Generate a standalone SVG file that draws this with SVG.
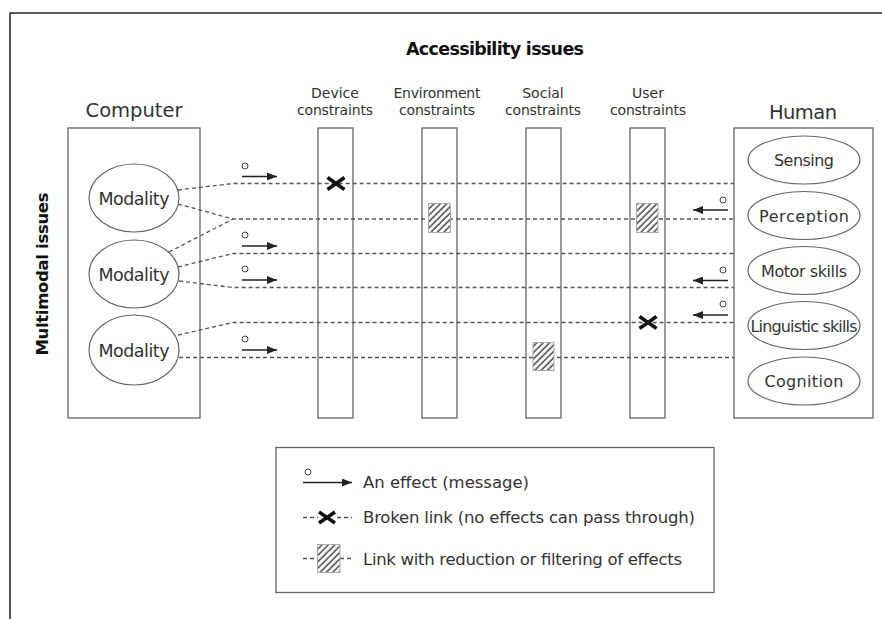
<svg xmlns="http://www.w3.org/2000/svg" width="882" height="619" viewBox="0 0 882 619">
  <defs>
    <marker id="ah" markerUnits="userSpaceOnUse" viewBox="0 0 10 8" markerWidth="10" markerHeight="8" refX="10" refY="4" orient="auto">
      <path d="M0,0 L10,4 L0,8 z" fill="#222"/>
    </marker>
    <pattern id="hatch" patternUnits="userSpaceOnUse" width="4.5" height="4.5" patternTransform="rotate(45)">
      <rect width="4.5" height="4.5" fill="#fff"/>
      <line x1="1" y1="0" x2="1" y2="4.5" stroke="#555" stroke-width="1.6"/>
    </pattern>
  </defs>
  <style>
    .frame{stroke:#222;stroke-width:1.5;fill:none}
    .box{fill:#fff;stroke:#666;stroke-width:1.3}
    .ell{fill:#fff;stroke:#666;stroke-width:1.2}
    .lbl{font-family:"DejaVu Sans",sans-serif;fill:#333;text-anchor:middle}
    .ttl{font-family:"DejaVu Sans",sans-serif;font-weight:bold;fill:#111;text-anchor:middle}
    .leg{font-family:"DejaVu Sans",sans-serif;fill:#333;font-size:16.5px}
    .link{fill:none;stroke:#555;stroke-width:1.3;stroke-dasharray:4 3}
    .eff{stroke:#222;stroke-width:1.5;fill:none;marker-end:url(#ah)}
    .dot{fill:#fff;stroke:#444;stroke-width:1}
    .brk{stroke:#111;stroke-width:3.5;fill:none}
    .filt{fill:url(#hatch);stroke:#aaa;stroke-width:1}
  </style>

  <rect width="882" height="619" fill="#fff"/>
  <!-- page frame -->
  <path class="frame" d="M10,619 L10,13 L882,13"/>

  <!-- titles -->
  <text class="ttl" x="495" y="54.5" font-size="17.5" textLength="178">Accessibility issues</text>
  <text class="ttl" font-size="16.5" textLength="163" transform="translate(47.5,274) rotate(-90)">Multimodal issues</text>

  <!-- computer side -->
  <g id="computer">
    <text class="lbl" x="134" y="116.5" font-size="19.5" textLength="97">Computer</text>
    <rect class="box" x="68" y="128" width="132" height="290"/>
  </g>
  <g id="modality1">
    <ellipse class="ell" cx="134" cy="198" rx="45" ry="34"/>
    <text class="lbl" x="134" y="204.5" font-size="17.5" textLength="71">Modality</text>
  </g>
  <g id="modality2">
    <ellipse class="ell" cx="134" cy="274" rx="45" ry="34"/>
    <text class="lbl" x="134" y="280.5" font-size="17.5" textLength="71">Modality</text>
  </g>
  <g id="modality3">
    <ellipse class="ell" cx="134" cy="350" rx="45" ry="35"/>
    <text class="lbl" x="134" y="356.5" font-size="17.5" textLength="71">Modality</text>
  </g>

  <!-- constraint bars -->
  <g id="device">
    <text class="lbl" x="335" y="98" font-size="14">Device</text>
    <text class="lbl" x="335" y="115" font-size="14" textLength="76">constraints</text>
    <rect class="box" x="318" y="128" width="35" height="290"/>
  </g>
  <g id="environment">
    <text class="lbl" x="437" y="98" font-size="14" textLength="87">Environment</text>
    <text class="lbl" x="437" y="115" font-size="14" textLength="76">constraints</text>
    <rect class="box" x="422" y="128" width="35" height="290"/>
  </g>
  <g id="social">
    <text class="lbl" x="543" y="98" font-size="14">Social</text>
    <text class="lbl" x="543" y="115" font-size="14" textLength="76">constraints</text>
    <rect class="box" x="526" y="128" width="35" height="290"/>
  </g>
  <g id="user">
    <text class="lbl" x="648" y="98" font-size="14">User</text>
    <text class="lbl" x="648" y="115" font-size="14" textLength="76">constraints</text>
    <rect class="box" x="630" y="128" width="35" height="290"/>
  </g>

  <!-- human side -->
  <g id="human">
    <text class="lbl" x="803" y="119" font-size="19.5" textLength="68">Human</text>
    <rect class="box" x="734" y="128" width="139" height="290"/>
  </g>
  <g id="sensing">
    <ellipse class="ell" cx="804" cy="160" rx="56" ry="24"/>
    <text class="lbl" x="804" y="166" font-size="16" textLength="60">Sensing</text>
  </g>
  <g id="perception">
    <ellipse class="ell" cx="804" cy="215.5" rx="56" ry="24"/>
    <text class="lbl" x="804" y="221.5" font-size="16" textLength="90">Perception</text>
  </g>
  <g id="motor">
    <ellipse class="ell" cx="804" cy="270.5" rx="56" ry="24"/>
    <text class="lbl" x="804" y="276.5" font-size="16" textLength="86">Motor skills</text>
  </g>
  <g id="linguistic">
    <ellipse class="ell" cx="804" cy="325.5" rx="56" ry="24"/>
    <text class="lbl" x="804" y="331.5" font-size="16" textLength="107">Linguistic skills</text>
  </g>
  <g id="cognition">
    <ellipse class="ell" cx="804" cy="381" rx="56" ry="24"/>
    <text class="lbl" x="804" y="387" font-size="16" textLength="79">Cognition</text>
  </g>

  <!-- links between modalities and human abilities -->
  <g id="connectors">
    <polyline class="link" points="178,190 233,183.5 734,183.5"/>
    <polyline class="link" points="178,204 233,219 734,219"/>
    <polyline class="link" points="169,252 233,219"/>
    <polyline class="link" points="178,267 233,253.5 734,253.5"/>
    <polyline class="link" points="179,281 233,287.5 734,287.5"/>
    <polyline class="link" points="178,335 233,322.5 734,322.5"/>
    <polyline class="link" points="179,357.5 734,357.5"/>

    <!-- effects travelling towards the human -->
    <line class="eff" x1="242" y1="176.5" x2="277" y2="176.5"/>
    <circle class="dot" cx="245" cy="166" r="3"/>
    <line class="eff" x1="242" y1="246" x2="277" y2="246"/>
    <circle class="dot" cx="245" cy="235" r="3"/>
    <line class="eff" x1="242" y1="280" x2="277" y2="280"/>
    <circle class="dot" cx="245" cy="269" r="3"/>
    <line class="eff" x1="242" y1="350" x2="277" y2="350"/>
    <circle class="dot" cx="245" cy="339" r="3"/>

    <!-- effects travelling towards the computer -->
    <line class="eff" x1="728" y1="210" x2="693" y2="210"/>
    <circle class="dot" cx="723" cy="200" r="3"/>
    <line class="eff" x1="728" y1="280.5" x2="693" y2="280.5"/>
    <circle class="dot" cx="723" cy="270" r="3"/>
    <line class="eff" x1="728" y1="315" x2="693" y2="315"/>
    <circle class="dot" cx="723" cy="304" r="3"/>

    <!-- broken links -->
    <path class="brk" d="M327.5,177.5 L344.5,189.5 M327.5,189.5 L344.5,177.5"/>
    <path class="brk" d="M639.5,316.5 L656.5,328.5 M639.5,328.5 L656.5,316.5"/>

    <!-- filtering links -->
    <rect class="filt" x="428.5" y="203.5" width="22" height="29"/>
    <rect class="filt" x="636.5" y="203.5" width="21.5" height="29"/>
    <rect class="filt" x="533" y="342.5" width="21" height="28"/>
  </g>

  <!-- legend -->
  <g id="legend">
    <rect x="276" y="447.5" width="438" height="145" fill="#fff" stroke="#666" stroke-width="1.3"/>
    <line class="eff" x1="303" y1="482.5" x2="352" y2="482.5"/>
    <circle class="dot" cx="308" cy="472" r="3"/>
    <text class="leg" x="363" y="488" textLength="166">An effect (message)</text>

    <line class="link" x1="303" y1="517.5" x2="318" y2="517.5" stroke-dasharray="3 2.5"/>
    <line class="link" x1="337" y1="517.5" x2="352" y2="517.5" stroke-dasharray="3 2.5"/>
    <path class="brk" d="M319,512 L335,523 M319,523 L335,512"/>
    <text class="leg" x="363" y="523" textLength="332">Broken link (no effects can pass through)</text>

    <line class="link" x1="303" y1="558.5" x2="317" y2="558.5" stroke-dasharray="3 2.5"/>
    <line class="link" x1="340" y1="558.5" x2="352" y2="558.5" stroke-dasharray="3 2.5"/>
    <rect class="filt" x="317.5" y="544.5" width="22.5" height="28"/>
    <text class="leg" x="363" y="564.5" textLength="319">Link with reduction or filtering of effects</text>
  </g>
</svg>
